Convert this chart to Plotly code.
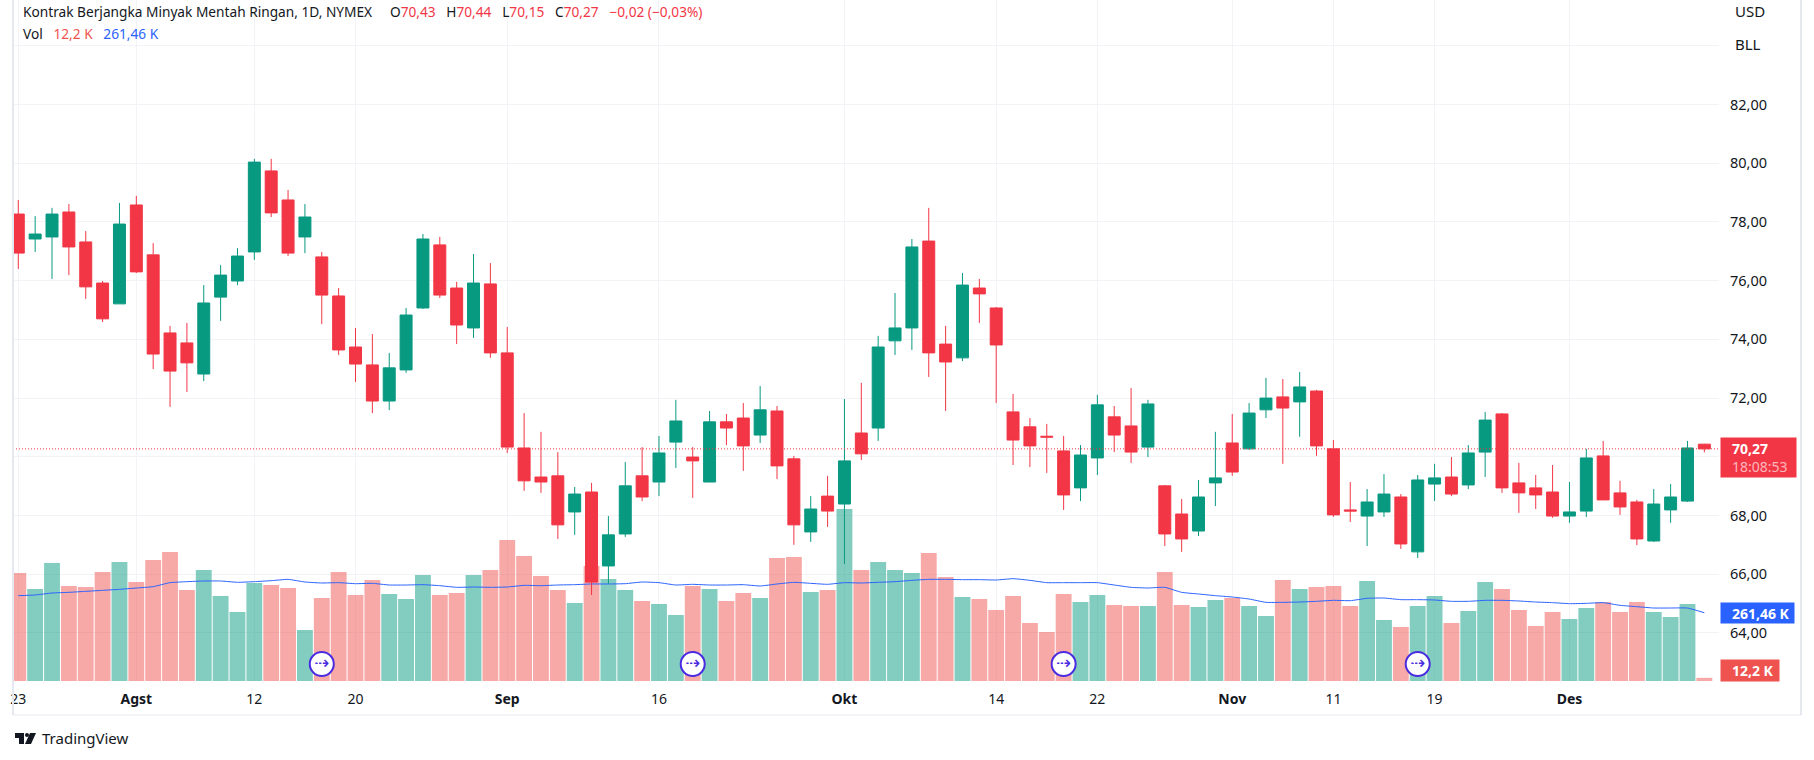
import pandas as pd
import plotly.graph_objects as go

# Trading days shown on the chart (exchange closed for two of the weekdays)
dates = pd.bdate_range("2024-07-23", "2024-12-12").drop(
    pd.to_datetime(["2024-09-02", "2024-11-28"])
).strftime("%Y-%m-%d").tolist()

open_px = [78.27, 77.42, 77.49, 78.34, 77.32, 75.92, 75.21, 78.58, 76.88, 74.22,
           73.88, 72.82, 75.44, 75.99, 76.98, 79.74, 78.75, 77.49, 76.81, 75.48,
           73.74, 73.13, 71.90, 72.96, 75.07, 77.22, 75.75, 74.39, 75.89, 73.54,
           70.30, 69.31, 69.35, 68.12, 68.80, 66.28, 67.37, 69.35, 69.14, 70.50,
           69.99, 69.14, 71.19, 71.32, 70.74, 71.56, 69.93, 67.44, 68.66, 68.39,
           70.81, 70.98, 73.95, 74.39, 77.35, 73.84, 73.37, 75.75, 75.07, 71.53,
           71.02, 70.70, 70.20, 68.94, 69.96, 71.36, 71.05, 70.33, 69.01, 68.05,
           67.47, 69.11, 70.47, 70.27, 71.60, 72.04, 71.87, 72.24, 70.27, 68.19,
           67.98, 68.12, 68.63, 66.76, 69.07, 69.31, 69.04, 70.16, 71.46, 69.11,
           68.94, 68.80, 67.98, 68.15, 70.03, 68.77, 68.46, 67.13, 68.19, 68.49,
           70.43]
high_px = [78.75, 78.20, 78.48, 78.61, 77.69, 75.99, 78.65, 78.89, 77.28, 74.46,
           74.56, 75.85, 76.53, 77.11, 80.15, 80.15, 79.09, 78.61, 76.98, 75.75,
           74.39, 74.18, 73.54, 75.07, 77.59, 77.49, 75.96, 76.91, 76.60, 74.42,
           71.49, 70.85, 70.16, 68.97, 69.11, 67.98, 69.82, 70.33, 70.71, 71.94,
           70.33, 71.56, 71.46, 71.83, 72.41, 71.73, 70.03, 68.66, 69.35, 71.97,
           72.52, 74.12, 75.58, 77.42, 78.48, 74.46, 76.26, 76.06, 75.10, 72.14,
           71.32, 71.12, 70.71, 70.40, 72.11, 71.73, 72.34, 71.94, 69.04, 68.56,
           69.21, 70.85, 71.46, 71.83, 72.69, 72.65, 72.89, 72.28, 70.57, 69.14,
           68.90, 69.41, 68.73, 69.38, 69.76, 69.99, 70.40, 71.53, 71.49, 69.79,
           69.38, 69.72, 69.14, 70.27, 70.54, 69.18, 68.53, 68.90, 69.07, 70.54,
           70.44]
low_px = [76.40, 76.98, 76.06, 76.19, 75.38, 74.59, 75.21, 76.26, 72.99, 71.70,
          72.21, 72.58, 74.63, 75.85, 76.71, 78.17, 76.84, 76.94, 74.52, 73.47,
          72.55, 71.49, 71.59, 72.86, 75.04, 75.41, 73.84, 74.05, 73.37, 70.13,
          68.84, 68.77, 67.20, 67.34, 65.29, 65.67, 67.27, 68.49, 68.66, 69.62,
          68.60, 69.14, 70.40, 69.52, 70.47, 69.24, 67.00, 67.10, 67.61, 66.35,
          69.89, 70.54, 73.47, 73.64, 72.72, 71.56, 73.26, 74.56, 71.83, 69.72,
          69.65, 69.45, 68.19, 68.49, 69.38, 70.16, 69.79, 69.99, 66.96, 66.76,
          67.30, 68.32, 69.35, 70.24, 71.32, 69.76, 70.68, 70.03, 67.95, 67.78,
          66.96, 67.95, 66.86, 66.55, 68.49, 68.66, 68.90, 69.31, 68.77, 68.09,
          68.22, 67.92, 67.75, 67.95, 68.53, 68.02, 66.99, 67.10, 67.75, 68.46,
          70.15]
close_px = [76.94, 77.59, 78.27, 77.15, 75.79, 74.70, 77.93, 76.30, 73.50, 72.92,
            73.20, 75.24, 76.19, 76.84, 80.04, 78.31, 76.94, 78.17, 75.51, 73.64,
            73.16, 71.90, 73.03, 74.83, 77.42, 75.51, 74.49, 75.92, 73.54, 70.33,
            69.18, 69.14, 67.68, 68.73, 65.73, 67.34, 69.01, 68.63, 70.13, 71.22,
            69.86, 71.19, 70.98, 70.37, 71.60, 69.69, 67.68, 68.22, 68.15, 69.86,
            70.10, 73.74, 74.39, 77.15, 73.54, 73.23, 75.85, 75.55, 73.81, 70.57,
            70.37, 70.67, 68.70, 70.06, 71.77, 70.74, 70.16, 71.80, 67.37, 67.20,
            68.63, 69.28, 69.48, 71.49, 72.00, 71.66, 72.38, 70.37, 68.02, 68.15,
            68.46, 68.73, 67.03, 69.21, 69.28, 68.73, 70.13, 71.25, 68.94, 68.77,
            68.70, 67.98, 68.12, 69.96, 68.53, 68.29, 67.20, 68.39, 68.63, 70.30,
            70.27]

# Volume and its moving average, in thousands
volume = [413.6, 352.3, 451.9, 363.8, 360.0, 417.4, 455.7, 379.1, 463.4, 494.0,
          348.5, 425.1, 325.5, 264.2, 375.3, 367.6, 356.1, 195.3, 317.8, 417.4,
          329.3, 386.8, 333.2, 314.0, 405.9, 329.3, 337.0, 405.9, 425.1, 540.0,
          478.7, 402.1, 348.5, 298.7, 440.4, 390.6, 348.5, 306.4, 294.9, 252.7,
          363.8, 352.3, 306.4, 337.0, 317.8, 471.0, 474.9, 340.8, 348.5, 658.7,
          425.1, 455.7, 425.1, 413.6, 490.2, 398.3, 321.7, 314.0, 271.9, 325.5,
          222.1, 187.6, 333.2, 302.5, 329.3, 291.0, 287.2, 287.2, 417.4, 291.0,
          283.4, 310.2, 317.8, 287.2, 248.9, 386.8, 352.3, 360.0, 363.8, 287.2,
          383.0, 233.6, 206.8, 287.2, 325.5, 222.1, 268.0, 379.1, 352.3, 271.9,
          210.6, 264.2, 237.4, 279.5, 302.5, 264.2, 302.5, 264.2, 245.1, 294.9,
          12.2]
volume_ma = [326.8, 329.3, 337.0, 339.5, 343.4, 347.2, 351.0, 356.1, 361.3, 376.6,
             380.4, 383.0, 383.0, 377.9, 380.4, 384.2, 389.3, 379.1, 375.3, 376.6,
             372.7, 374.0, 367.6, 367.6, 368.9, 365.1, 358.7, 360.0, 358.7, 360.0,
             366.4, 365.1, 367.6, 368.9, 371.5, 371.5, 372.7, 379.1, 376.6, 367.6,
             370.2, 367.6, 367.6, 368.9, 363.8, 371.5, 377.9, 374.0, 370.2, 376.6,
             375.3, 377.9, 380.4, 385.5, 389.3, 389.3, 388.1, 388.1, 386.8, 391.9,
             385.5, 376.6, 376.6, 376.6, 376.6, 367.6, 358.7, 356.1, 358.7, 339.5,
             333.2, 326.8, 321.7, 314.0, 301.2, 301.2, 302.5, 305.1, 308.9, 307.6,
             316.6, 317.8, 311.5, 311.5, 310.2, 305.1, 305.1, 308.9, 308.9, 306.4,
             302.5, 300.0, 296.1, 297.4, 300.0, 289.8, 284.6, 279.5, 279.5, 279.5,
             261.46]

tick_dates = ["2024-07-23", "2024-08-01", "2024-08-12", "2024-08-20", "2024-09-03",
              "2024-09-16", "2024-10-01", "2024-10-14", "2024-10-22", "2024-11-01",
              "2024-11-11", "2024-11-19", "2024-12-02"]
tick_labels = ["23", "<b>Agst</b>", "12", "20", "<b>Sep</b>", "16", "<b>Okt</b>",
               "14", "22", "<b>Nov</b>", "11", "19", "<b>Des</b>"]
# the 70,00 label is covered by the last price tag in the original
price_ticks = [64, 66, 68, 70, 72, 74, 76, 78, 80, 82, 84]
price_labels = ["64,00", "66,00", "68,00", "", "72,00", "74,00", "76,00",
                "78,00", "80,00", "82,00", ""]
event_dates = ["2024-08-16", "2024-09-18", "2024-10-18", "2024-11-18"]

last_price = 70.27
UP = "#089981"
DOWN = "#F23645"
GRID = "#F2F3F6"
INK = "#131722"
FONT = "Noto Sans"

W, H = 1814, 760
L, R, T, B = 13, 95, 0, 79
PLOT_W, PLOT_H = W - L - R, H - T - B


# pixel position on the page -> paper coordinates, for the page furniture
def px(x):
    return (x - L) / PLOT_W


def py(y):
    return 1 - (y - T) / PLOT_H


fig = go.Figure()

# Volume sits on the base axis so the candles draw over it
bar_colors = ["rgba(8,153,129,0.5)" if c >= o else "rgba(239,83,80,0.5)"
              for o, c in zip(open_px, close_px)]
fig.add_trace(go.Bar(x=dates, y=volume, marker=dict(color=bar_colors, line=dict(width=0)),
                     yaxis="y", showlegend=False))
fig.add_trace(go.Scatter(x=dates, y=volume_ma, mode="lines", yaxis="y",
                         line=dict(color="#2962FF", width=1, shape="spline", smoothing=0.4),
                         showlegend=False))

# Event markers along the bottom
fig.add_trace(go.Scatter(x=event_dates, y=[65] * len(event_dates), mode="markers+text",
                         yaxis="y", text=["⇢"] * len(event_dates), textposition="middle center",
                         textfont=dict(family="DejaVu Sans", size=18, color="#4A2BE0"),
                         marker=dict(size=24, color="white", line=dict(color="#4A2BE0", width=2)),
                         showlegend=False))

fig.add_trace(go.Candlestick(x=dates, open=open_px, high=high_px, low=low_px, close=close_px,
                             yaxis="y2", whiskerwidth=0,
                             increasing=dict(line=dict(color=UP, width=1), fillcolor=UP),
                             decreasing=dict(line=dict(color=DOWN, width=1), fillcolor=DOWN),
                             showlegend=False))

shapes = [
    # last price line
    dict(type="line", xref="paper", yref="y2", x0=0, x1=1, y0=last_price, y1=last_price,
         line=dict(color=DOWN, width=1, dash="1px,2px")),
    # frame
    dict(type="line", xref="paper", yref="paper", x0=px(13), x1=px(13), y0=py(0), y1=py(715),
         line=dict(color="#E6E8F0", width=2)),
    dict(type="line", xref="paper", yref="paper", x0=px(1801), x1=px(1801), y0=py(0), y1=py(715),
         line=dict(color="#E6E8F0", width=2)),
    dict(type="line", xref="paper", yref="paper", x0=px(13), x1=px(1801), y0=py(715), y1=py(715),
         line=dict(color="#E6E8F0", width=1)),
    # logo
    dict(type="path", xref="paper", yref="paper", fillcolor=INK, line=dict(width=0),
         path=f"M {px(15)} {py(733)} L {px(24)} {py(733)} L {px(24)} {py(744)} L {px(19)} {py(744)} "
              f"L {px(19)} {py(738)} L {px(15)} {py(738)} Z"),
    dict(type="circle", xref="paper", yref="paper", fillcolor=INK, line=dict(width=0),
         x0=px(25), x1=px(29), y0=py(733), y1=py(737)),
    dict(type="path", xref="paper", yref="paper", fillcolor=INK, line=dict(width=0),
         path=f"M {px(30)} {py(733)} L {px(36)} {py(733)} L {px(31)} {py(744)} L {px(25)} {py(744)} Z"),
]

red = "color:#F23645"
blue = "color:#2962FF"
gap = "&nbsp;&nbsp;&nbsp;"
legend_top = (f"Kontrak Berjangka Minyak Mentah Ringan, 1D, NYMEX{gap}&nbsp;&nbsp;"
              f"O<span style='{red}'>70,43</span>{gap}H<span style='{red}'>70,44</span>{gap}"
              f"L<span style='{red}'>70,15</span>{gap}C<span style='{red}'>70,27</span>{gap}"
              f"<span style='{red}'>−0,02 (−0,03%)</span>")
legend_vol = (f"Vol{gap}<span style='color:#EF5350'>12,2 K</span>{gap}"
              f"<span style='{blue}'>261,46 K</span>")

annotations = [
    dict(text=legend_top, x=px(21), y=py(11), font=dict(size=13.7, color=INK)),
    dict(text=legend_vol, x=px(21), y=py(33), font=dict(size=13.7, color=INK)),
    dict(text="USD", x=px(1733), y=py(11), font=dict(size=15, color=INK)),
    dict(text="BLL", x=px(1733), y=py(44), font=dict(size=15, color=INK)),
    dict(text="TradingView", x=px(40), y=py(738), font=dict(size=15, color=INK)),
]
annotations = [dict(a, xref="paper", yref="paper", xanchor="left", yanchor="middle",
                    showarrow=False) for a in annotations]

# Value tags on the right of the plot
pad = "&nbsp;&nbsp;&nbsp;"
annotations += [
    dict(text=f"{pad}<b>70,27</b><br>{pad}<span style='color:#FBB6BC'>18:08:53</span>", x=1, y=last_price,
         yref="y2", yshift=-9, width=75, height=39, bgcolor=DOWN, align="left", borderpad=0,
         font=dict(size=14, color="white")),
    dict(text=f"{pad}<b>261,46 K</b>", x=1, y=volume_ma[-1], yref="y", width=73, height=20,
         bgcolor="#2962FF", align="left", borderpad=0, font=dict(size=14, color="white")),
    dict(text=f"{pad}<b>12,2 K</b>", x=1, y=volume[-1], yref="y", yshift=7, width=58, height=21,
         bgcolor="#EF5350", align="left", borderpad=0, font=dict(size=14, color="white")),
]
for a in annotations[-3:]:
    a.update(xref="paper", xanchor="left", xshift=1, showarrow=False)

fig.update_layout(
    width=W, height=H, autosize=False,
    margin=dict(l=L, r=R, t=T, b=B),
    paper_bgcolor="white", plot_bgcolor="white",
    font=dict(family=FONT, size=14, color=INK),
    bargap=0.06, boxgap=0.29, boxgroupgap=0, hovermode=False,
    xaxis=dict(type="category", range=[-0.314, 100.87], tickmode="array",
               tickvals=tick_dates, ticktext=tick_labels, tickangle=0,
               showgrid=True, gridcolor=GRID, gridwidth=1, zeroline=False, showline=False,
               ticks="", ticklabelstandoff=8, rangeslider=dict(visible=False),
               tickfont=dict(size=14, color=INK)),
    yaxis=dict(range=[0, 2608], showgrid=False, zeroline=False, showticklabels=False,
               ticks="", showline=False),
    yaxis2=dict(range=[62.36, 85.564], overlaying="y", side="right", tickmode="array",
                tickvals=price_ticks, ticktext=price_labels, showgrid=True, gridcolor=GRID,
                gridwidth=1, zeroline=False, showline=False, ticks="", ticklabelstandoff=10,
                tickfont=dict(size=14.5, color=INK)),
    shapes=shapes, annotations=annotations,
)

fig.write_html("out.html", config=dict(displayModeBar=False),
               post_script="document.body.style.margin='0';document.body.style.overflow='hidden';")
